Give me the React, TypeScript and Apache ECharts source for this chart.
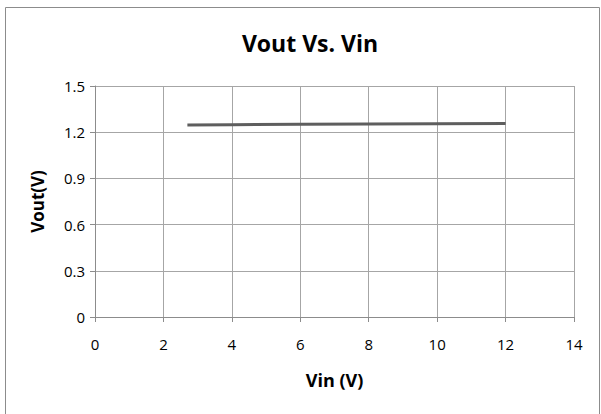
import React, { useEffect, useRef } from "react";
import * as echarts from "echarts";

const vin = [2.7, 4, 6, 8, 10, 12];
const vout = [1.247, 1.249, 1.251, 1.253, 1.255, 1.257];
const titleText = "Vout Vs. Vin";
const xName = "Vin (V)";
const yName = "Vout(V)";

export default function App() {
  const ref = useRef<HTMLDivElement>(null);
  useEffect(() => {
    if (!ref.current) return;
    const chart = echarts.init(ref.current, null, { renderer: "svg" });
    const font = "'Open Sans', sans-serif";
    chart.setOption({
      animation: false,
      backgroundColor: "#ffffff",
      title: {
        text: titleText,
        left: 305,
        textAlign: "center",
        top: 26,
        textStyle: { fontFamily: font, fontWeight: "bold", fontSize: 23, color: "#000" },
      },
      graphic: [
        {
          type: "rect",
          shape: { x: 5.5, y: 7.5, width: 594, height: 420 },
          style: { fill: "none", stroke: "#8c8c8c", lineWidth: 1 },
          silent: true,
          z: 100,
        },
      ],
      grid: { left: 95, right: 27, top: 86, bottom: 97 },
      xAxis: {
        type: "value",
        min: 0,
        max: 14,
        interval: 2,
        name: xName,
        nameLocation: "middle",
        nameGap: 54,
        nameTextStyle: { fontFamily: font, fontWeight: "bold", fontSize: 18, color: "#000" },
        axisLine: { show: true, onZero: false, lineStyle: { color: "#8c8c8c", width: 1 } },
        axisTick: { show: true, length: 5, lineStyle: { color: "#8c8c8c" } },
        axisLabel: { fontFamily: font, fontSize: 15, color: "#000", margin: 19 },
        splitLine: { show: true, lineStyle: { color: "#a6a6a6", width: 1 } },
      },
      yAxis: {
        type: "value",
        min: 0,
        max: 1.5,
        interval: 0.3,
        name: yName,
        nameLocation: "middle",
        nameGap: 49,
        nameRotate: 90,
        nameTextStyle: { fontFamily: font, fontWeight: "bold", fontSize: 17, color: "#000" },
        axisLine: { show: true, lineStyle: { color: "#8c8c8c", width: 1 } },
        axisTick: { show: true, length: 5, lineStyle: { color: "#8c8c8c" } },
        axisLabel: {
          fontFamily: font,
          fontSize: 15,
          color: "#000",
          margin: 10,
          formatter: (v: number) => String(Math.round(v * 10) / 10),
        },
        splitLine: { show: true, lineStyle: { color: "#a6a6a6", width: 1 } },
      },
      series: [
        {
          type: "line",
          data: vin.map((x, i) => [x, vout[i]]),
          showSymbol: false,
          symbol: "none",
          lineStyle: { color: "#5e5e5e", width: 3 },
        },
      ],
    });
    return () => chart.dispose();
  }, []);
  return <div ref={ref} style={{ width: 601, height: 414, position: "absolute", left: 0, top: 0 }} />;
}
